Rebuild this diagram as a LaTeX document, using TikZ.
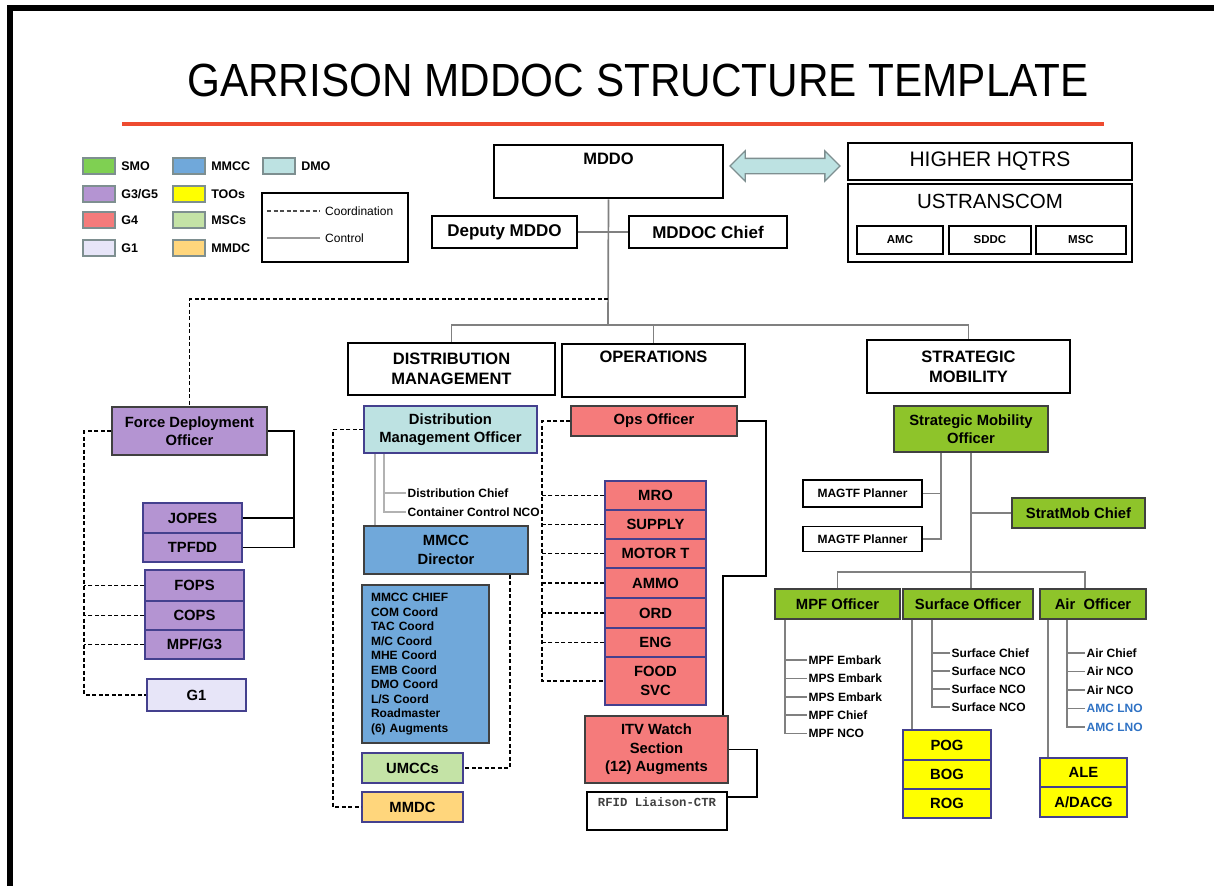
\documentclass[tikz,border=0pt]{standalone}
\usepackage{fontspec}
\setmainfont{Liberation Sans}
\setmonofont{Liberation Mono}
\usetikzlibrary{shapes.arrows}

\definecolor{titlered}{HTML}{EE4B30}
\definecolor{smogreen}{HTML}{8EC42A}
\definecolor{keygreen}{HTML}{7FD052}
\definecolor{g3purple}{HTML}{B494D2}
\definecolor{g4red}{HTML}{F57B7B}
\definecolor{g1lav}{HTML}{E7E5F8}
\definecolor{mmccblue}{HTML}{70A8DA}
\definecolor{tooyellow}{HTML}{FFFF00}
\definecolor{mscgreen}{HTML}{C4E3A6}
\definecolor{mmdcorange}{HTML}{FFD67C}
\definecolor{dmoteal}{HTML}{BDE2E2}
\definecolor{swedge}{HTML}{7E8F90}
\definecolor{navyedge}{HTML}{44408E}
\definecolor{lnoblue}{HTML}{2F72C4}

\tikzset{
  head/.style={draw=black, line width=2.8pt, fill=white, align=center, inner sep=0pt,
    font=\bfseries\fontsize{16.5}{20}\selectfont},
  headlab/.style={anchor=north, inner sep=0pt, font=\bfseries\fontsize{16.5}{20}\selectfont},
  box/.style={draw=black, line width=1.5pt, fill=white, align=center, inner sep=0pt},
  unit/.style={draw=black!75, line width=1.5pt, align=center, inner sep=0pt,
    font=\bfseries\fontsize{14.8}{18.5}\selectfont},
  navy/.style={draw=navyedge},
  item/.style={anchor=west, inner sep=1.5pt, font=\bfseries\fontsize{12}{14}\selectfont},
  swatch/.style={draw=swedge, line width=2.2pt, minimum width=32pt, minimum height=16pt, inner sep=0pt},
  keylab/.style={anchor=west, inner sep=0pt, font=\bfseries\fontsize{12.5}{14}\selectfont},
  ctrl/.style={draw=black!50, line width=1.7pt},
  link/.style={draw=black, line width=1.7pt},
  coord/.style={draw=black, line width=1.8pt, dash pattern=on 4pt off 2.5pt},
}

\begin{document}
\begin{tikzpicture}[x=1pt,y=-1pt]
  \useasboundingbox (0,0) rectangle (1214,886);

  %frame
  \fill (7,5) rectangle (1214,11);
  \fill (7,5) rectangle (13,886);

  %title
  \node[font=\fontsize{42.3}{48}\selectfont] (title) at (638,80)
    {\scalebox{1}[1.1]{GARRISON MDDOC STRUCTURE TEMPLATE}};
  \draw[titlered, line width=3.2pt] (122,124) -- (1104,124);

  %legend
  \foreach \lab/\col/\x/\y [count=\i] in {SMO/keygreen/99/166, {G3/G5}/g3purple/99/194,
      G4/g4red/99/220, G1/g1lav/99/248, MMCC/mmccblue/189/166, TOOs/tooyellow/189/194,
      MSCs/mscgreen/189/220, MMDC/mmdcorange/189/248, DMO/dmoteal/279/166}
    {
    \node[swatch, fill=\col] (sw\i) at (\x,\y) {};
    \node[keylab] (kl\i) at ([xshift=5pt]sw\i.east) {\lab};
    }
  \node[draw=black, line width=1.2pt, minimum width=146pt, minimum height=69pt, inner sep=0pt] (lgbox) at (335,227.5) {};
  \node[anchor=west, inner sep=0pt, font=\fontsize{12}{14}\selectfont] (kcoord) at (325,211) {Coordination};
  \node[anchor=west, inner sep=0pt, font=\fontsize{12}{14}\selectfont] (kctrl) at (325,238) {Control};
  \draw[coord, line width=1.1pt, black!70] ([xshift=-58pt]kcoord.west) -- ([xshift=-5pt]kcoord.west);
  \draw[ctrl, line width=1.1pt, black!40] ([xshift=-58pt]kctrl.west) -- ([xshift=-5pt]kctrl.west);

  %top block
  \node[head, minimum width=229pt, minimum height=53pt, label={[headlab, yshift=-9pt]north:MDDO}] (mddo) at (608.5,171.5) {};
  \node[double arrow, draw=swedge, fill=dmoteal, line width=1.3pt, minimum height=110pt,
    double arrow head extend=7.5pt, inner xsep=0pt, inner ysep=7pt] (swap) at (785,166) {};
  \node[box, minimum width=284pt, minimum height=37pt, font=\fontsize{21}{24}\selectfont] (hq) at (990,161.5) {HIGHER HQTRS};
  \node[box, minimum width=284pt, minimum height=78pt,
    label={[anchor=north, inner sep=0pt, yshift=-11pt, font=\fontsize{20.5}{24}\selectfont]north:USTRANSCOM}] (ustc) at (990,223) {};
  \node[box, minimum width=86pt, minimum height=28pt, font=\bfseries\fontsize{11.5}{13}\selectfont] (amc) at (900,240) {AMC};
  \node[box, minimum width=82pt, minimum height=28pt, font=\bfseries\fontsize{11.5}{13}\selectfont] (sddc) at (990,240) {SDDC};
  \node[box, minimum width=90pt, minimum height=28pt, font=\bfseries\fontsize{11.5}{13}\selectfont] (msc) at (1081,240) {MSC};
  \node[head, minimum width=145pt, minimum height=32pt, font=\bfseries\fontsize{17}{20}\selectfont] (deputy) at (504.5,232) {Deputy MDDO};
  \node[head, minimum width=158pt, minimum height=32pt, font=\bfseries\fontsize{17}{20}\selectfont] (chief) at (708,232) {MDDOC Chief};

  %sections
  \node[head, minimum width=207pt, minimum height=52pt] (dm) at (451.5,369) {DISTRIBUTION\\MANAGEMENT};
  \node[head, minimum width=183pt, minimum height=53pt, label={[headlab, yshift=-8pt]north:OPERATIONS}] (ops) at (653.5,370.5) {};
  \node[head, minimum width=203pt, minimum height=53pt] (sm) at (968.5,366.5) {STRATEGIC\\MOBILITY};

  %force deployment
  \node[unit, fill=g3purple, minimum width=155pt, minimum height=48pt] (fdo) at (189.5,431) {Force Deployment\\Officer};
  \node[unit, navy, fill=g3purple, minimum width=99pt, minimum height=30pt] (jopes) at (192.5,518) {JOPES};
  \node[unit, navy, fill=g3purple, minimum width=99pt, minimum height=29pt] (tpfdd) at (192.5,547.5) {TPFDD};
  \node[unit, navy, fill=g3purple, minimum width=99pt, minimum height=31pt] (fops) at (194.5,585.5) {FOPS};
  \node[unit, navy, fill=g3purple, minimum width=99pt, minimum height=29pt] (cops) at (194.5,615.5) {COPS};
  \node[unit, navy, fill=g3purple, minimum width=99pt, minimum height=29pt] (mpfg) at (194.5,644.5) {MPF/G3};
  \node[unit, navy, fill=g1lav, minimum width=99pt, minimum height=32pt] (g1) at (196.5,695) {G1};

  %distribution management
  \node[unit, navy, fill=dmoteal, minimum width=173pt, minimum height=47pt] (dmo) at (450.5,429.5) {Distribution\\Management Officer};
  \node[item] (dchief) at (406,493) {Distribution Chief};
  \node[item] (ccnco) at (406,512) {Container Control NCO};
  \node[unit, fill=mmccblue, minimum width=164pt, minimum height=48pt] (mmccd) at (446,550) {MMCC\\Director};
  \node[unit, fill=mmccblue, minimum width=127pt, minimum height=158pt, align=left, text width=109pt,
    font=\bfseries\fontsize{12}{14.5}\selectfont] (mmccl) at (425.5,664)
    {MMCC CHIEF\\COM Coord\\TAC Coord\\M/C Coord\\MHE Coord\\EMB Coord\\DMO Coord\\L/S Coord\\Roadmaster\\(6) Augments};
  \node[unit, navy, fill=mscgreen, minimum width=101pt, minimum height=30pt] (umcc) at (412.5,768) {UMCCs};
  \node[unit, navy, fill=mmdcorange, minimum width=101pt, minimum height=30pt] (mmdc) at (412.5,807) {MMDC};

  %operations
  \node[unit, fill=g4red, minimum width=166pt, minimum height=30pt] (opso) at (654,421) {Ops Officer};
  \node[unit, navy, fill=g4red, minimum width=101pt, minimum height=29pt] (mro) at (655.5,495.5) {MRO};
  \node[unit, navy, fill=g4red, minimum width=101pt, minimum height=29pt] (supply) at (655.5,524.5) {SUPPLY};
  \node[unit, navy, fill=g4red, minimum width=101pt, minimum height=29pt] (motor) at (655.5,553.5) {MOTOR T};
  \node[unit, navy, fill=g4red, minimum width=101pt, minimum height=30pt] (ammo) at (655.5,583) {AMMO};
  \node[unit, navy, fill=g4red, minimum width=101pt, minimum height=30pt] (ord) at (655.5,613) {ORD};
  \node[unit, navy, fill=g4red, minimum width=101pt, minimum height=29pt] (eng) at (655.5,642.5) {ENG};
  \node[unit, navy, fill=g4red, minimum width=101pt, minimum height=48pt] (food) at (655.5,681) {FOOD\\SVC};
  \node[unit, fill=g4red, minimum width=143pt, minimum height=67pt] (itv) at (656.5,749.5) {ITV Watch\\Section\\(12) Augments};
  \node[box, minimum width=140pt, minimum height=38pt,
    label={[anchor=north, inner sep=0pt, yshift=-6pt, text=black!75, font=\ttfamily\bfseries\fontsize{12.3}{14}\selectfont]north:RFID Liaison-CTR}] (rfid) at (657,811) {};

  %strategic mobility
  \node[unit, fill=smogreen, minimum width=154pt, minimum height=46pt] (smo) at (971,429) {Strategic Mobility\\Officer};
  \node[box, minimum width=119pt, minimum height=27pt, font=\bfseries\fontsize{12}{14}\selectfont] (mag1) at (862.5,493.5) {MAGTF Planner};
  \node[box, minimum width=119pt, minimum height=25pt, font=\bfseries\fontsize{12}{14}\selectfont] (mag2) at (862.5,539) {MAGTF Planner};
  \node[unit, fill=smogreen, minimum width=133pt, minimum height=30pt] (smchief) at (1078.5,513) {StratMob Chief};
  \node[unit, fill=smogreen, minimum width=125pt, minimum height=30pt] (mpfo) at (837.5,604) {MPF Officer};
  \node[unit, fill=smogreen, minimum width=130pt, minimum height=30pt] (surfo) at (968,604) {Surface Officer};
  \node[unit, fill=smogreen, minimum width=106pt, minimum height=30pt] (airo) at (1093,604) {Air\ \ Officer};
  \node[unit, navy, fill=tooyellow, minimum width=88pt, minimum height=30pt] (pog) at (947,745) {POG};
  \node[unit, navy, fill=tooyellow, minimum width=88pt, minimum height=29pt] (bog) at (947,774.5) {BOG};
  \node[unit, navy, fill=tooyellow, minimum width=88pt, minimum height=29pt] (rog) at (947,803.5) {ROG};
  \node[unit, navy, fill=tooyellow, minimum width=87pt, minimum height=29pt] (ale) at (1083.5,772.5) {ALE};
  \node[unit, navy, fill=tooyellow, minimum width=87pt, minimum height=30pt] (adacg) at (1083.5,802) {A/DACG};
  \foreach \t [count=\i] in {MPF Embark, MPS Embark, MPS Embark, MPF Chief, MPF NCO}
    \node[item] (mpf\i) at (807,642+18.3*\i) {\t};
  \foreach \t [count=\i] in {Surface Chief, Surface NCO, Surface NCO, Surface NCO}
    \node[item] (sf\i) at (950,635+18*\i) {\t};
  \foreach \t/\c [count=\i] in {Air Chief/black, Air NCO/black, Air NCO/black, AMC LNO/lnoblue, AMC LNO/lnoblue}
    \node[item, text=\c] (ar\i) at (1085,634.5+18.5*\i) {\t};

  % connectors from the top
  \coordinate (split) at (608,299);
  \coordinate (bus) at (608,325);
  \draw[ctrl] (mddo.south) -- (bus);
  \draw[ctrl] (deputy.east) -- (chief.west);
  \draw[ctrl] (dm.north) |- (bus) -| (sm.north);
  \draw[ctrl] (ops.north) -- (ops.north |- bus);
  \draw[coord] (split) -| (fdo.north);

  % force deployment lines
  \coordinate (fdoR) at ([xshift=26pt]fdo.east);
  \draw[link] (fdo.east) -- (fdoR) |- (tpfdd.east);
  \draw[link] (jopes.east) -- (jopes.east -| fdoR);
  \coordinate (fdoL) at ([xshift=-27pt]fdo.west);
  \draw[coord] (fdo.west) -- (fdoL) |- (g1.west);
  \foreach \n in {fops,cops,mpfg}
    \draw[coord] (\n.west) -- (\n.west -| fdoL);

  % distribution lines
  \coordinate (dmoV) at ([xshift=21pt]dmo.south west);
  \draw[ctrl, black!30] ([xshift=12pt]dmo.south west) -- ([xshift=12pt]mmccd.north west);
  \draw[ctrl, black!30] (dmoV) |- (ccnco.west);
  \draw[ctrl, black!30] (dchief.west) -- (dchief.west -| dmoV);
  \draw[coord] ([xshift=-19pt]mmccd.south east) |- (umcc.east);
  \draw[coord] (dmo.west) -- ++(-30,0) |- (mmdc.west);

  % operations lines
  \coordinate (opsL) at ([xshift=-28pt]opso.west);
  \draw[coord] (opso.west) -- (opsL) |- (food.west);
  \foreach \n in {mro,supply,motor,ammo,ord,eng}
    \draw[coord] (\n.west) -- (\n.west -| opsL);
  \draw[link] (opso.east) -| ++(28,155) -| ([xshift=-6pt]itv.north east);
  \draw[link] (itv.east) -- ++(28,0) |- ([yshift=14pt]rfid.east);

  % strategic mobility lines
  \coordinate (smoV) at ([xshift=-30pt]smo.south);
  \coordinate (bus2) at (971,572);
  \draw[ctrl] (smoV) |- (mag2.east);
  \draw[ctrl] (mag1.east) -- (mag1.east -| smoV);
  \draw[ctrl] (smo.south) -- (bus2);
  \draw[ctrl] (smchief.west) -- (smchief.west -| bus2);
  \draw[ctrl] (mpfo.north) |- (bus2) -| ([xshift=-8pt]airo.north);
  \draw[ctrl] (bus2) -- (bus2 |- surfo.north);
  \coordinate (mpfV) at ([xshift=11pt]mpfo.south west);
  \draw[ctrl] (mpfV) |- (mpf5.west);
  \foreach \i in {1,...,4}
    \draw[ctrl] (mpf\i.west) -- (mpf\i.west -| mpfV);
  \draw[ctrl] ([xshift=10pt]surfo.south west) -- ([xshift=10pt]pog.north west);
  \coordinate (surfV) at ([xshift=30pt]surfo.south west);
  \draw[ctrl] (surfV) |- (sf4.west);
  \foreach \i in {1,...,3}
    \draw[ctrl] (sf\i.west) -- (sf\i.west -| surfV);
  \draw[ctrl] ([xshift=9pt]airo.south west) -- ([xshift=9pt]ale.north west);
  \coordinate (airV) at ([xshift=28pt]airo.south west);
  \draw[ctrl] (airV) |- (ar5.west);
  \foreach \i in {1,...,4}
    \draw[ctrl] (ar\i.west) -- (ar\i.west -| airV);
\end{tikzpicture}
\end{document}
